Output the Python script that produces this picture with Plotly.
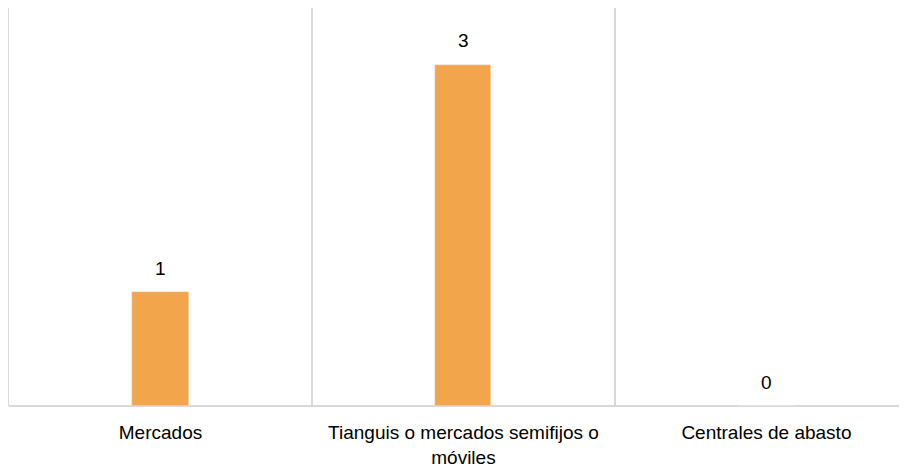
import plotly.graph_objects as go

categorias = ["Mercados", "Tianguis o mercados semifijos o<br>móviles", "Centrales de abasto"]
valores = [1, 3, 0]

fig = go.Figure()
fig.add_trace(go.Bar(x=categorias, y=valores, marker_color="#F2A54A", width=0.185))

# etiquetas de valor sobre cada barra
for cat, v in zip(categorias, valores):
    fig.add_annotation(x=cat, y=v, text=str(v), showarrow=False, yshift=24,
                       yanchor="middle", font=dict(size=19, color="#000000"))

fig.update_layout(
    width=907, height=470,
    margin=dict(l=1, r=8, t=0, b=72, autoexpand=False),
    paper_bgcolor="white", plot_bgcolor="white",
    font=dict(family="Liberation Sans, Arial", size=19, color="#000000"),
    showlegend=False,
    bargap=0,
)
fig.update_xaxes(range=[-0.5, 2.464], tickson="boundaries", showgrid=True,
                 gridcolor="#d9d9d9", gridwidth=1.5, ticks="", ticklabelstandoff=13,
                 showline=False, zeroline=False, automargin=False)
fig.update_yaxes(range=[0, 3.5], showgrid=False, showticklabels=False,
                 zeroline=True, zerolinecolor="#d9d9d9", zerolinewidth=2,
                 showline=True, linecolor="#d9d9d9", linewidth=1.5,
                 automargin=False)

fig.write_html("out.html")
